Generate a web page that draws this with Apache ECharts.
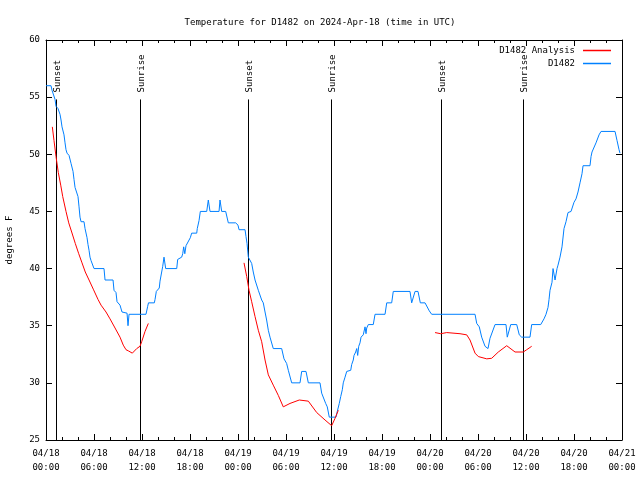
<!DOCTYPE html>
<html>
<head>
<meta charset="utf-8">
<script src="https://cdn.jsdelivr.net/npm/echarts@6/dist/echarts.min.js"></script>
<style>
html,body{margin:0;padding:0;background:#fff;}
#chart{width:640px;height:480px;}
</style>
</head>
<body>
<div id="chart"></div>
<script>
// x values are hours since 2024-04-18 00:00 UTC
const xTickLabels = ['04/18\n00:00','04/18\n06:00','04/18\n12:00','04/18\n18:00','04/19\n00:00','04/19\n06:00','04/19\n12:00','04/19\n18:00','04/20\n00:00','04/20\n06:00','04/20\n12:00','04/20\n18:00','04/21\n00:00'];

const sunHours = [1.25, 11.75, 25.3, 35.63, 49.32, 59.66];
const sunLabels = ['Sunset', 'Sunrise', 'Sunset', 'Sunrise', 'Sunset', 'Sunrise'];

const blueHours = [0,0.63,0.75,1.13,1.25,1.5,1.75,1.88,2,2.25,2.38,2.5,2.63,2.88,3.13,3.38,3.5,3.63,3.88,4,4.13,4.25,4.38,4.75,4.88,5.13,5.25,5.38,5.5,5.63,6,7.25,7.38,8.38,8.5,8.75,8.88,9.25,9.5,10.13,10.25,10.38,12.5,12.71,12.81,13.54,13.63,13.79,14.04,14.16,14.25,14.46,14.59,14.75,14.96,16.34,16.46,16.96,17.09,17.21,17.35,17.5,18.04,18.21,18.84,18.91,19.13,19.29,20.09,20.29,20.5,21.63,21.75,21.96,22.46,22.79,23.71,24,24.13,24.88,25,25.13,25.29,25.71,25.91,26.13,26.54,26.96,27.16,27.38,27.58,27.79,28,28.41,29.46,29.75,30.08,30.29,30.71,31.75,31.96,32.5,32.79,34.25,34.46,34.96,35.16,35.41,36.25,36.41,36.66,36.84,37.04,37.16,37.38,37.59,38.09,38.21,38.41,38.5,38.71,38.84,38.96,39.09,39.25,39.38,39.66,39.88,40,40.09,40.29,40.91,41.13,42.38,42.59,43.21,43.41,45.5,45.71,45.9,46.13,46.5,46.79,47.38,47.91,48.21,53.63,53.84,54.16,54.46,54.88,55.25,55.5,56.13,57.5,57.66,57.91,58.09,58.84,59.16,59.46,60.5,60.71,61.84,62.25,62.5,62.75,62.88,63,63.25,63.38,63.63,63.88,64,64.25,64.5,64.75,65,65.25,65.63,66,66.25,66.5,66.75,67,67.13,68,68.13,68.25,68.75,69,69.13,69.38,71.13,71.38,71.63,71.75];
const blueTemps = [56,56,55.6,54.8,54.2,54,53.5,53,52.4,51.7,51,50.4,50.1,49.9,49.2,48.5,47.8,47.1,47,46.3,45.4,44.5,44.1,44.1,43.5,42.7,42.1,41.6,41,40.7,40,40,39,39,38.1,37.9,37.1,36.8,36.2,36.1,35,36,36,36.7,37,37,37.3,38,38.1,38.3,38.9,39.7,40.2,41,40,40,40.8,41,41.3,41.9,41.3,42,42.7,43.1,43.1,43.5,44.2,45,45,46,45,45,46,45,45,44,44,43.8,43.4,43.4,42.8,42.2,41,40.45,39.7,39,38.1,37.25,37,36.2,35.5,34.6,34,33,33,32.1,31.7,31.1,30,30,31,31,30,30,29.1,28.2,27.9,27,27,27.5,28.2,28.8,29.4,30,30.5,31,31.1,31.6,32,32.4,32.7,33,32.4,33.2,33.5,34,34.2,34.9,34.3,34.8,35.1,35.1,36,36,37,37,38,38,37,37,38,38,37,37,36.3,36,36,35.2,34.9,34,33.2,33,33.9,35.1,35.1,34,34,35.1,35.1,34.2,34,34,35.1,35.1,35.6,36,36.6,37.3,38.1,38.8,40,39,40,40.3,41,41.9,43.5,44.1,44.9,45,45.8,46.1,46.7,47.5,48.3,49,49,49.8,50.2,51,51,51.7,52,52,51.2,50.4,50.1];

const redSeg1Hours = [0.79,1.0,1.25,1.54,1.84,2.09,2.5,2.84,3.21,3.66,4.09,4.5,4.91,5.38,5.91,6.5,6.88,7.5,8.0,8.63,9.25,9.66,10.0,10.29,10.79,11.34,11.75,11.96,12.38,12.79];
const redSeg1Temps = [52.4,51.2,49.8,48.4,47.3,46.3,45,44,43.2,42.2,41.3,40.5,39.7,39,38.2,37.3,36.8,36.2,35.6,34.8,34,33.3,32.9,32.8,32.6,33,33.2,33.6,34.5,35.2];
const redSeg2Hours = [24.75,25.09,25.38,25.71,26.13,26.54,26.96,27.38,27.79,28.41,29.04,29.66,30.5,31.66,32.79,33.84,34.88,35.71,36.13,36.54];
const redSeg2Temps = [40.5,39.3,38.1,37.1,35.8,34.6,33.6,32.0,30.7,29.8,28.9,27.9,28.2,28.5,28.4,27.4,26.75,26.25,26.9,27.6];
const redSeg3Hours = [48.63,49.34,50.09,51.75,52.59,53,53.63,54.04,55.09,55.71,56.54,57.59,58.63,59.66,60.09,60.71];
const redSeg3Temps = [34.4,34.3,34.4,34.3,34.2,33.75,32.6,32.3,32.1,32.15,32.7,33.25,32.7,32.7,32.9,33.2];

const FONT = '"DejaVu Sans Mono", "Liberation Mono", monospace';
const FS = 9;

function pairs(h, t) { return h.map((v, i) => [v, t[i]]); }
const redData = [].concat(pairs(redSeg1Hours, redSeg1Temps), [[null, null]], pairs(redSeg2Hours, redSeg2Temps), [[null, null]], pairs(redSeg3Hours, redSeg3Temps));
const blueData = pairs(blueHours, blueTemps);

const chart = echarts.init(document.getElementById('chart'), null, {renderer: 'canvas'});

const axisCommonX = {
  type: 'value', min: 0, max: 72, interval: 6,
  axisLine: {show: true, onZero: false, lineStyle: {color: '#000', width: 1}},
  axisTick: {show: true, inside: true, length: 6, lineStyle: {color: '#000'}},
  minorTick: {show: true, splitNumber: 3, length: 3, lineStyle: {color: '#000'}},
  splitLine: {show: false}
};
const axisCommonY = {
  type: 'value', min: 25, max: 60, interval: 5,
  axisLine: {show: true, onZero: false, lineStyle: {color: '#000', width: 1}},
  axisTick: {show: true, inside: true, length: 6, lineStyle: {color: '#000'}},
  splitLine: {show: false}
};

chart.setOption({
  animation: false,
  backgroundColor: '#fff',
  textStyle: {fontFamily: FONT, fontSize: FS, color: '#000'},
  title: {
    text: 'Temperature for D1482 on 2024-Apr-18 (time in UTC)',
    left: 'center', top: 13,
    textStyle: {fontFamily: FONT, fontSize: FS, fontWeight: 'normal', color: '#000'}
  },
  legend: [
    {data: ['D1482 Analysis'], right: 29, top: 46, padding: 0, align: 'right', orient: 'vertical', icon: 'rect', itemWidth: 28, itemHeight: 1.5,
     textStyle: {fontFamily: FONT, fontSize: FS, color: '#000', padding: [0, 3, 0, 0]}},
    {data: ['D1482'], right: 29, top: 59, padding: 0, align: 'right', orient: 'vertical', icon: 'rect', itemWidth: 28, itemHeight: 1.5,
     textStyle: {fontFamily: FONT, fontSize: FS, color: '#000', padding: [0, 3, 0, 0]}}
  ],
  grid: {left: 46, right: 18, top: 40, bottom: 40, containLabel: false, outerBoundsMode: 'none'},
  xAxis: [
    Object.assign({}, axisCommonX, {position: 'bottom',
      axisLabel: {show: true, margin: 7, fontFamily: FONT, fontSize: FS, color: '#000', lineHeight: 14,
        formatter: v => xTickLabels[Math.round(v / 6)] || ''}}),
    Object.assign({}, axisCommonX, {position: 'top', axisLabel: {show: false}})
  ],
  yAxis: [
    Object.assign({}, axisCommonY, {position: 'left',
      name: 'degrees F', nameLocation: 'middle', nameGap: 32, nameRotate: 90,
      nameTextStyle: {fontFamily: FONT, fontSize: FS, color: '#000'},
      axisLabel: {show: true, margin: 6, fontFamily: FONT, fontSize: FS, color: '#000'}}),
    Object.assign({}, axisCommonY, {position: 'right', axisLabel: {show: false}})
  ],
  series: [
    {
      type: 'custom', name: 'sun', xAxisIndex: 0, yAxisIndex: 0, z: 1, silent: true,
      data: sunHours.map(h => [h]),
      encode: {x: 0},
      renderItem: function (params, api) {
        const h = api.value(0);
        const b = api.coord([h, 25]);
        const t = api.coord([h, 54.8]);
        const x = Math.round(b[0]) + 0.5;
        return {
          type: 'group',
          children: [
            {type: 'line', shape: {x1: x, y1: b[1], x2: x, y2: t[1]}, style: {stroke: '#000', lineWidth: 1}},
            {type: 'text', x: x + 1, y: t[1] - 7, rotation: Math.PI / 2,
             style: {text: sunLabels[params.dataIndex], font: FS + 'px ' + FONT, fill: '#000', align: 'left', verticalAlign: 'middle'}}
          ]
        };
      }
    },
    {
      name: 'D1482 Analysis', type: 'line', xAxisIndex: 0, yAxisIndex: 0, z: 3,
      data: redData, showSymbol: false, connectNulls: false,
      lineStyle: {color: '#ff0000', width: 1}, itemStyle: {color: '#ff0000'}
    },
    {
      name: 'D1482', type: 'line', xAxisIndex: 0, yAxisIndex: 0, z: 2,
      data: blueData, showSymbol: false,
      lineStyle: {color: '#0080ff', width: 1}, itemStyle: {color: '#0080ff'}
    }
  ]
});
</script>
</body>
</html>
